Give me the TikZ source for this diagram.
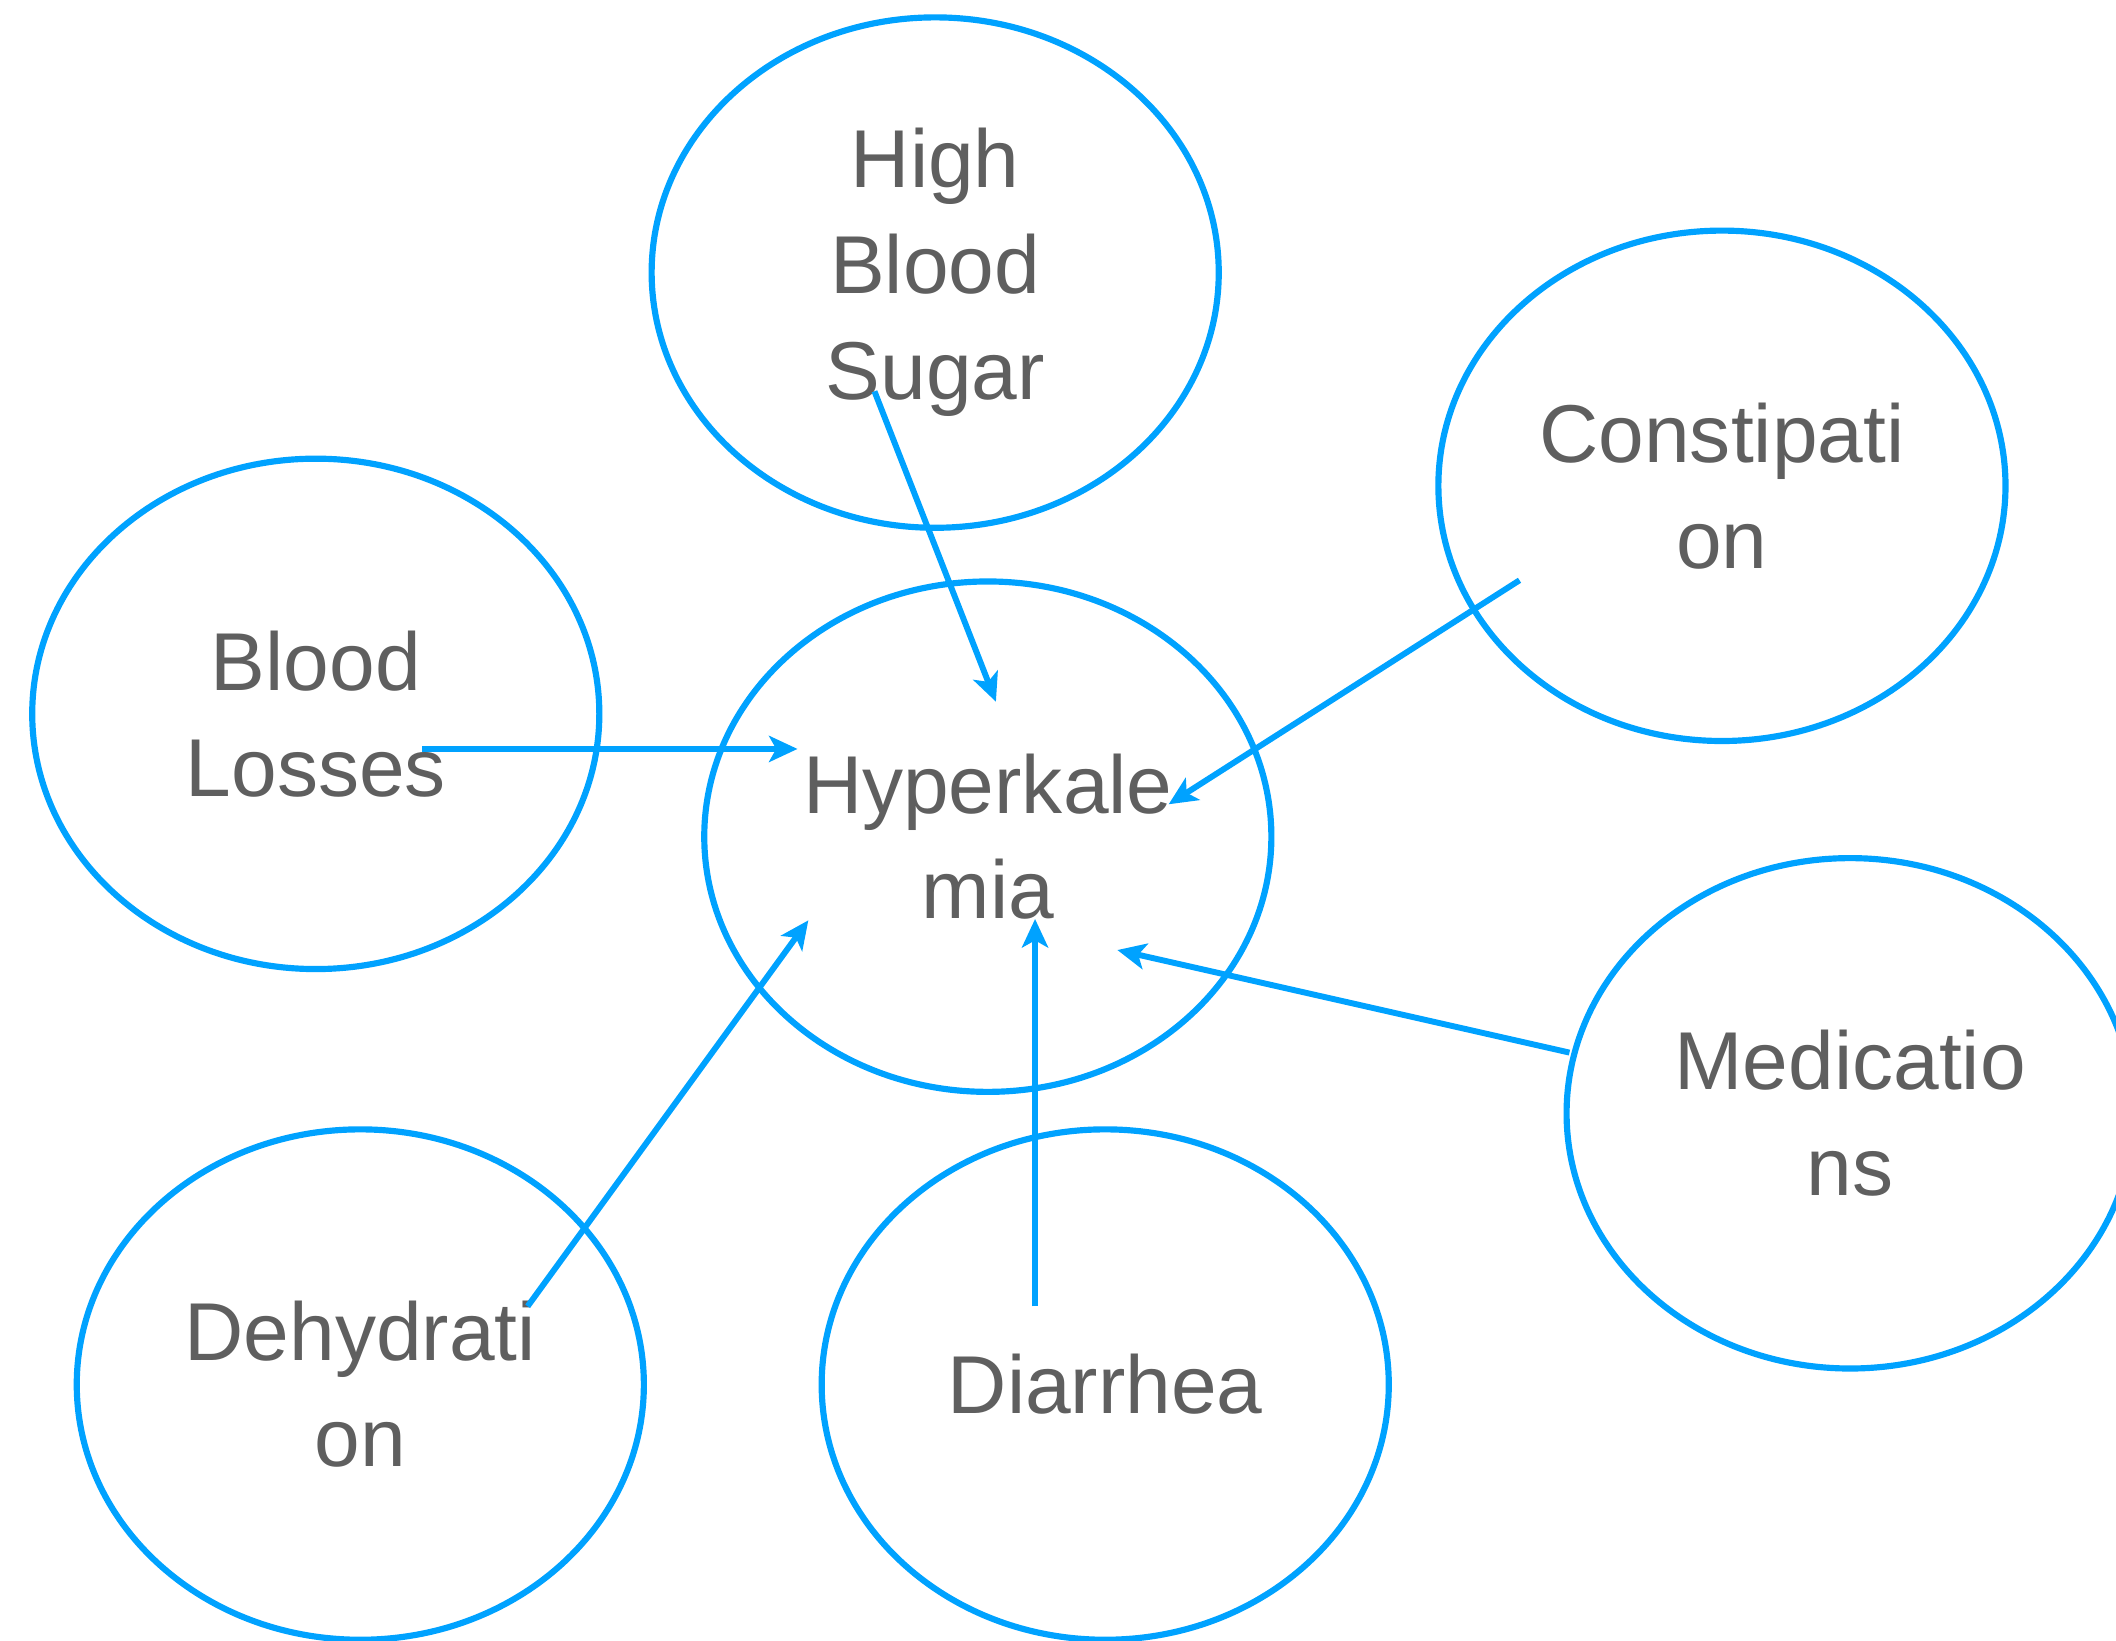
\documentclass[tikz,border=0pt]{standalone}
\usepackage{fontspec}
\setmainfont{Liberation Sans}
\usetikzlibrary{shapes.geometric,arrows.meta}
\definecolor{ringblue}{HTML}{00A2FF}
\definecolor{labelgray}{HTML}{5F5F5F}
\tikzset{
  cause/.style={ellipse, draw=ringblue, line width=1.3pt, minimum width=4.2cm, minimum height=3.78cm,
    inner sep=0pt, align=center, text=labelgray, font=\fontsize{17.3}{22.3}\selectfont},
  link/.style={ringblue, line width=1.25pt, -{Stealth[length=6pt,width=5.5pt,inset=1.5pt]}}
}
\begin{document}
\begin{tikzpicture}[x=0.01cm, y=-0.01cm]

\useasboundingbox (0,0) rectangle (1568,1216);

\node [cause] (sugar) at (693,202) {High\\Blood\\Sugar};
\node [cause] (constip) at (1276,360) {Constipati\\on};
\node [cause] (losses) at (234,529) {Blood\\Losses};
\node [cause] (hyper) at (732,620) {Hyperkale\\mia};
\node [cause] (meds) at (1371,825) {Medicatio\\ns};
\node [cause] (dehyd) at (267,1026) {Dehydrati\\on};
\node [cause] (diarr) at (819,1026) {Diarrhea};

% arrow ends
\coordinate (sugar-out) at (648,290);
\coordinate (hyper-in1) at (738,520);
\coordinate (losses-out) at (313,555);
\coordinate (hyper-in2) at (591,555);
\coordinate (constip-out) at (1126,430);
\coordinate (hyper-in3) at (866,596);
\coordinate (meds-out) at (1163,780);
\coordinate (hyper-in4) at (828,704);
\coordinate (diarr-out) at (767,968);
\coordinate (hyper-in5) at (767,681);
\coordinate (dehyd-out) at (391,968);
\coordinate (hyper-in6) at (599,682);

\draw [link] (sugar-out) -- (hyper-in1);
\draw [link] (losses-out) -- (hyper-in2);
\draw [link] (constip-out) -- (hyper-in3);
\draw [link] (meds-out) -- (hyper-in4);
\draw [link] (diarr-out) -- (hyper-in5);
\draw [link] (dehyd-out) -- (hyper-in6);

\end{tikzpicture}
\end{document}
